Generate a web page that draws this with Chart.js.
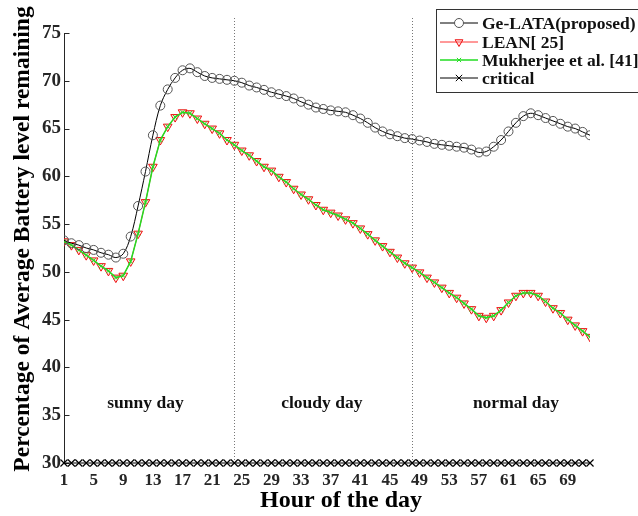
<!DOCTYPE html>
<html>
<head>
<meta charset="utf-8">
<script src="https://cdn.jsdelivr.net/npm/chart.js@4.4.1/dist/chart.umd.min.js"></script>
<style>
  html, body { margin: 0; padding: 0; background: #fff; }
  #wrap { position: relative; width: 638px; height: 516px; }
</style>
</head>
<body>
<div id="wrap"><canvas id="batteryChart" width="638" height="516"></canvas></div>
<script>
// data (hour 1..72)
const hours = Array.from({ length: 72 }, (_, i) => i + 1);

const geLata = [
    53.3, 53.0, 52.8, 52.5, 52.3, 52.0, 51.8, 51.5, 51.9, 53.7,
    56.9, 60.5, 64.3, 67.4, 69.1, 70.3, 71.1, 71.3, 70.9, 70.5,
    70.3, 70.2, 70.1, 70.0, 69.8, 69.5, 69.3, 69.05, 68.8, 68.6,
    68.4, 68.15, 67.8, 67.5, 67.2, 67.05, 66.9, 66.8, 66.7, 66.4,
    66.05, 65.6, 65.1, 64.7, 64.4, 64.2, 64.0, 63.9, 63.75, 63.6,
    63.4, 63.3, 63.2, 63.1, 63.0, 62.8, 62.5, 62.6, 63.1, 63.8,
    64.7, 65.6, 66.3, 66.6, 66.4, 66.1, 65.8, 65.5, 65.2, 65.0,
    64.65, 64.3
];

const lean = [
    53.2, 52.8, 52.3, 51.75, 51.2, 50.6, 50.1, 49.4, 49.6, 51.1,
    54.0, 57.3, 61.0, 63.8, 65.2, 66.2, 66.7, 66.6, 66.05, 65.5,
    65.0, 64.5, 63.8, 63.3, 62.7, 62.2, 61.6, 61.0, 60.6, 59.95,
    59.4, 58.7, 58.1, 57.6, 57.0, 56.5, 56.2, 55.9, 55.5, 55.1,
    54.55, 53.95, 53.3, 52.7, 52.1, 51.5, 50.9, 50.45, 49.95, 49.4,
    48.9, 48.35, 47.8, 47.3, 46.7, 46.1, 45.4, 45.2, 45.4, 46.0,
    46.8, 47.5, 47.8, 47.8, 47.5, 46.9, 46.2, 45.7, 45.0, 44.4,
    43.8, 43.2
];

const mukherjee = [
    53.2, 52.8, 52.3, 51.75, 51.2, 50.6, 50.1, 49.4, 49.6, 51.1,
    54.0, 57.3, 61.0, 63.8, 65.2, 66.2, 66.7, 66.6, 66.05, 65.5,
    65.0, 64.5, 63.8, 63.3, 62.7, 62.2, 61.6, 61.0, 60.6, 59.95,
    59.4, 58.7, 58.1, 57.6, 57.0, 56.5, 56.2, 55.9, 55.5, 55.1,
    54.55, 53.95, 53.3, 52.7, 52.1, 51.5, 50.9, 50.45, 49.95, 49.4,
    48.9, 48.35, 47.8, 47.3, 46.7, 46.1, 45.4, 45.2, 45.4, 46.0,
    46.8, 47.5, 47.8, 47.8, 47.5, 46.9, 46.2, 45.7, 45.0, 44.4,
    43.8, 43.2
];

const critical = hours.map(() => 30);

const xTicks = [1, 5, 9, 13, 17, 21, 25, 29, 33, 37, 41, 45, 49, 53, 57, 61, 65, 69];
const yTicks = [30, 35, 40, 45, 50, 55, 60, 65, 70, 75];

const dayBounds = [24, 48];
const dayNames = ['sunny day', 'cloudy day', 'normal day'];
const dayLabelX = [12, 35.8, 62];
const dayLabelY = 36.2;

const seriesNames = ['Ge-LATA(proposed)', 'LEAN[ 25]', 'Mukherjee et al. [41]', 'critical'];
const xTitle = 'Hour of the day';
const yTitle = 'Percentage of Average Battery level remaining';

const SERIF = '"Liberation Serif", "Times New Roman", serif';
const TICK_COLOR = '#262626';

const pts = (arr) => arr.map((v, i) => ({ x: hours[i], y: v }));

// dotted day separators, day names, inward ticks, axis titles and the boxed legend
const decorPlugin = {
    id: 'decor',
    beforeDatasetsDraw(chart) {
        const { ctx, chartArea, scales } = chart;
        ctx.save();
        ctx.strokeStyle = '#777';
        ctx.lineWidth = 1;
        ctx.setLineDash([1, 2]);
        dayBounds.forEach(b => {
            const x = Math.round(scales.x.getPixelForValue(b)) + 0.5;
            ctx.beginPath();
            ctx.moveTo(x, chartArea.top - 15);
            ctx.lineTo(x, chartArea.bottom);
            ctx.stroke();
        });
        ctx.setLineDash([]);

        // y axis line + inward ticks
        ctx.strokeStyle = TICK_COLOR;
        const ax = Math.round(chartArea.left) + 0.5;
        ctx.beginPath();
        ctx.moveTo(ax, chartArea.top);
        ctx.lineTo(ax, chartArea.bottom);
        yTicks.forEach(t => {
            const y = Math.round(scales.y.getPixelForValue(t)) + 0.5;
            ctx.moveTo(ax, y);
            ctx.lineTo(ax + 5, y);
        });
        ctx.stroke();

        ctx.fillStyle = '#111';
        ctx.font = 'bold 17.5px ' + SERIF;
        ctx.textAlign = 'center';
        ctx.textBaseline = 'middle';
        dayNames.forEach((n, i) => {
            ctx.fillText(n, scales.x.getPixelForValue(dayLabelX[i]), scales.y.getPixelForValue(dayLabelY));
        });

        // axis titles
        ctx.fillStyle = '#000';
        ctx.font = 'bold 24px ' + SERIF;
        ctx.fillText(xTitle, 341, 501);
        ctx.translate(23, 239);
        ctx.rotate(-Math.PI / 2);
        ctx.font = 'bold 23.5px ' + SERIF;
        ctx.fillText(yTitle, 0, 0);
        ctx.restore();
    },
    afterDraw(chart) {
        const { ctx } = chart;
        ctx.save();
        ctx.fillStyle = '#fff';
        ctx.strokeStyle = '#333';
        ctx.lineWidth = 1;
        ctx.fillRect(436.5, 9.5, 210, 83);
        ctx.strokeRect(436.5, 9.5, 210, 83);

        const rows = [23, 42, 60, 78];
        seriesNames.forEach((name, i) => {
            const ds = chart.data.datasets.find(d => d.label === name);
            const y = rows[i];
            ctx.strokeStyle = ds.borderColor;
            ctx.lineWidth = ds.borderWidth;
            ctx.beginPath();
            ctx.moveTo(440, y);
            ctx.lineTo(478, y);
            ctx.stroke();
            ctx.strokeStyle = ds.pointBorderColor;
            ctx.fillStyle = ds.label === seriesNames[0] ? '#fff' : (ds.pointBackgroundColor || '#fff');
            ctx.lineWidth = 1;
            Chart.helpers.drawPoint(ctx, {
                pointStyle: ds.pointStyle,
                rotation: ds.pointRotation || 0,
                radius: Math.min(ds.pointRadius, 4.5),
                borderWidth: 1
            }, 459, y);
            ctx.fillStyle = '#111';
            ctx.font = 'bold 17.5px ' + SERIF;
            ctx.textAlign = 'left';
            ctx.textBaseline = 'middle';
            ctx.fillText(name, 482, y + 1);
        });
        ctx.restore();
    }
};

new Chart(document.getElementById('batteryChart'), {
    type: 'line',
    data: {
        datasets: [
            {
                label: seriesNames[0],
                data: pts(geLata),
                borderColor: '#000',
                borderWidth: 1,
                pointStyle: 'circle',
                pointRadius: 4.5,
                pointBorderColor: '#555',
                pointBackgroundColor: 'rgba(0,0,0,0)',
                pointBorderWidth: 1,
                tension: 0.35
            },
            {
                label: seriesNames[2],
                data: pts(mukherjee),
                borderColor: '#22dd22',
                borderWidth: 1.5,
                pointStyle: 'crossRot',
                pointRadius: 3,
                pointBorderColor: '#22dd22',
                pointBorderWidth: 1,
                tension: 0
            },
            {
                label: seriesNames[1],
                data: pts(lean),
                borderColor: '#ff3333',
                borderWidth: 1,
                pointStyle: 'triangle',
                pointRotation: 180,
                pointRadius: 5,
                pointBorderColor: '#ee1111',
                pointBackgroundColor: 'rgba(255,160,160,0.35)',
                pointBorderWidth: 1,
                tension: 0
            },
            {
                label: seriesNames[3],
                data: pts(critical),
                borderColor: '#000',
                borderWidth: 1,
                pointStyle: 'crossRot',
                pointRadius: 5,
                pointBorderColor: '#000',
                pointBorderWidth: 1.2,
                tension: 0,
                clip: false
            }
        ]
    },
    options: {
        responsive: false,
        animation: false,
        layout: { padding: { top: 33, right: 48, left: 0, bottom: 0 } },
        plugins: {
            legend: { display: false },
            tooltip: { enabled: false }
        },
        scales: {
            x: {
                type: 'linear',
                min: 1,
                max: 72,
                afterBuildTicks: (s) => { s.ticks = xTicks.map(v => ({ value: v })); },
                afterFit: (s) => { s.height = 53; },
                border: { display: false },
                grid: { display: false, drawTicks: false },
                ticks: {
                    color: TICK_COLOR,
                    padding: 7,
                    maxRotation: 0,
                    autoSkip: false,
                    font: { family: SERIF, size: 17, weight: 'bold' }
                }
            },
            y: {
                min: 30,
                max: 75,
                afterBuildTicks: (s) => { s.ticks = yTicks.map(v => ({ value: v })); },
                afterFit: (s) => { s.width = 64; },
                border: { display: false },
                grid: { display: false, drawTicks: false },
                ticks: {
                    color: TICK_COLOR,
                    padding: 3,
                    font: { family: SERIF, size: 19, weight: 'bold' }
                }
            }
        }
    },
    plugins: [decorPlugin]
});
</script>
</body>
</html>
